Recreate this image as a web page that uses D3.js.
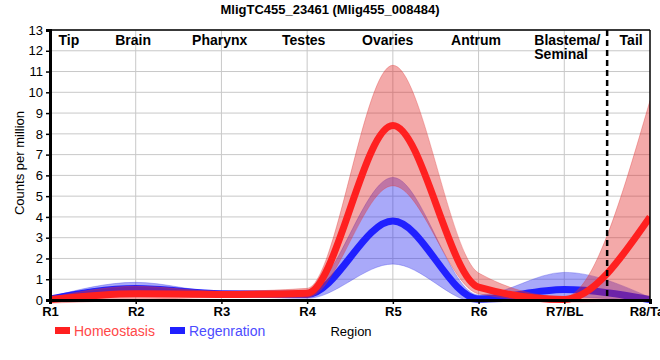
<!DOCTYPE html>
<html>
<head>
<meta charset="utf-8">
<script src="https://cdn.jsdelivr.net/npm/d3@7"></script>
<style>
  html, body { margin: 0; padding: 0; background: #fff; }
  svg { display: block; font-family: "Liberation Sans", Arial, sans-serif; }
</style>
</head>
<body>
<svg id="chart" width="660" height="360"></svg>
<script>
// ---------- data ----------
const categories = ["R1", "R2", "R3", "R4", "R5", "R6", "R7/BL", "R8/Tail"];
const positions = [1, 2, 3, 4, 5, 6, 7, 8];

const homeoMean = [0.02, 0.30, 0.27, 0.33, 8.4, 0.62, 0.03, 4.0];
const homeoLow  = [-0.15, 0.0, 0.12, 0.12, 5.5, 0.30, -0.10, 0.0];
const homeoHigh = [0.12, 0.66, 0.42, 0.56, 11.3, 1.30, 0.15, 9.6];

const regenMean = [0.05, 0.55, 0.30, 0.27, 3.8, 0.05, 0.50, 0.02];
const regenLow  = [0.0, 0.25, 0.20, 0.08, 1.73, -0.13, 0.15, -0.10];
const regenHigh = [0.15, 0.85, 0.40, 0.45, 5.9, 0.24, 1.33, 0.12];

const yTicks = [0, 1, 2, 3, 4, 5, 6, 7, 8, 9, 10, 11, 12, 13];

const regionNames = ["Tip", "Brain", "Pharynx", "Testes", "Ovaries", "Antrum", "Tail"];
const regionPos   = [1.22, 1.97, 2.98, 3.96, 4.94, 5.97, 7.78];
const multiRegionLines = ["Blastema/", "Seminal"];
const multiRegionPos = 6.65;
const dividerPos = 7.5;

const seriesNames = ["Homeostasis", "Regenration"];
const title = "MligTC455_23461 (Mlig455_008484)";

// ---------- layout ----------
const W = 660, H = 360;
const m = { left: 50, right: 10, top: 30, bottom: 60 };
const pw = W - m.left - m.right, ph = H - m.top - m.bottom;

const svg = d3.select("#chart");
const x = d3.scaleLinear().domain([1, 8]).range([m.left, m.left + pw]);
const y = d3.scaleLinear().domain([0, 13]).range([m.top + ph, m.top]);

const red = "#ff2020", blue = "#2020ff";

// title
svg.append("text").attr("x", 330).attr("y", 14).attr("text-anchor", "middle")
  .attr("font-size", 13).attr("font-weight", "bold").text(title);

// grid
const grid = svg.append("g");
grid.selectAll("line.h").data(yTicks.slice(1)).join("line")
  .attr("x1", m.left).attr("x2", m.left + pw)
  .attr("y1", d => y(d)).attr("y2", d => y(d))
  .attr("stroke", "#c8c8c8").attr("stroke-width", 1);
grid.selectAll("line.v").data(positions.slice(1, -1)).join("line")
  .attr("x1", d => x(d)).attr("x2", d => x(d))
  .attr("y1", m.top).attr("y2", m.top + ph)
  .attr("stroke", "#c8c8c8").attr("stroke-width", 1);

// clip
svg.append("clipPath").attr("id", "clip").append("rect")
  .attr("x", m.left).attr("y", m.top).attr("width", pw).attr("height", ph + 5);

const plot = svg.append("g").attr("clip-path", "url(#clip)");

const curve = d3.curveMonotoneX;
function bandData(lo, hi) { return positions.map((p, i) => ({ x: p, lo: lo[i], hi: hi[i] })); }
function lineData(v) { return positions.map((p, i) => ({ x: p, v: v[i] })); }

const area = d3.area().curve(curve).x(d => x(d.x)).y0(d => y(d.lo)).y1(d => y(d.hi));
const line = d3.line().curve(curve).x(d => x(d.x)).y(d => y(d.v));

// regeneration band + line
plot.append("path").datum(bandData(regenLow, regenHigh)).attr("d", area)
  .attr("fill", "rgba(40,40,240,0.4)").attr("stroke", "rgba(60,60,230,0.35)").attr("stroke-width", 1);
plot.append("path").datum(lineData(regenMean)).attr("d", line)
  .attr("fill", "none").attr("stroke", blue).attr("stroke-width", 7);

// homeostasis band + line
plot.append("path").datum(bandData(homeoLow, homeoHigh)).attr("d", area)
  .attr("fill", "rgba(224,40,40,0.4)").attr("stroke", "rgba(224,60,60,0.35)").attr("stroke-width", 1);
plot.append("path").datum(lineData(homeoMean)).attr("d", line)
  .attr("fill", "none").attr("stroke", red).attr("stroke-width", 7);

// divider
svg.append("line").attr("x1", x(dividerPos)).attr("x2", x(dividerPos))
  .attr("y1", m.top).attr("y2", m.top + ph)
  .attr("stroke", "#000").attr("stroke-width", 2.5).attr("stroke-dasharray", "6,4");

// border top/right
svg.append("line").attr("x1", m.left).attr("x2", m.left + pw).attr("y1", m.top).attr("y2", m.top)
  .attr("stroke", "#000").attr("stroke-width", 1.5);
svg.append("line").attr("x1", m.left + pw).attr("x2", m.left + pw).attr("y1", m.top).attr("y2", m.top + ph)
  .attr("stroke", "#000").attr("stroke-width", 1.5);

// axes
const yAxis = d3.axisLeft(y).tickValues(yTicks).tickSize(4).tickPadding(3);
const gy = svg.append("g").attr("transform", `translate(${m.left},0)`).call(yAxis);
gy.select(".domain").attr("stroke-width", 3);
gy.selectAll(".tick line").attr("stroke-width", 1.5);
gy.selectAll("text").attr("font-size", 13).attr("font-family", "Liberation Sans, Arial, sans-serif").attr("fill", "#000");

const xAxis = d3.axisBottom(x).tickValues(positions).tickFormat((d, i) => categories[i]).tickSize(4).tickPadding(3);
const gx = svg.append("g").attr("transform", `translate(0,${m.top + ph})`).call(xAxis);
gx.select(".domain").attr("stroke-width", 3);
gx.selectAll(".tick line").attr("stroke-width", 1.5);
gx.selectAll("text").attr("font-size", 13).attr("font-weight", "bold")
  .attr("font-family", "Liberation Sans, Arial, sans-serif").attr("fill", "#000");

// axis titles
svg.append("text").attr("transform", `translate(24,163) rotate(-90)`).attr("text-anchor", "middle")
  .attr("font-size", 13).text("Counts per million");
svg.append("text").attr("x", 351).attr("y", 336).attr("text-anchor", "middle")
  .attr("font-size", 13).text("Region");

// region labels
svg.selectAll("text.region").data(regionNames).join("text")
  .attr("class", "region")
  .attr("x", (d, i) => x(regionPos[i])).attr("y", 45).attr("text-anchor", "middle")
  .attr("font-size", 14).attr("font-weight", "bold").text(d => d);
svg.selectAll("text.region2").data(multiRegionLines).join("text")
  .attr("class", "region2")
  .attr("x", x(multiRegionPos)).attr("y", (d, i) => 45 + i * 14).attr("text-anchor", "start")
  .attr("font-size", 14).attr("font-weight", "bold").text(d => d);

// legend
const legendColors = [red, blue];
const legendText = ["#ff4848", "#4c4cff"];
const legendX = [55, 170];
const lg = svg.append("g");
seriesNames.forEach((n, i) => {
  lg.append("rect").attr("x", legendX[i]).attr("y", 327).attr("width", 15).attr("height", 7)
    .attr("fill", legendColors[i]);
  lg.append("text").attr("x", legendX[i] + 19).attr("y", 336).attr("font-size", 14)
    .attr("fill", legendText[i]).text(n);
});
</script>
</body>
</html>
